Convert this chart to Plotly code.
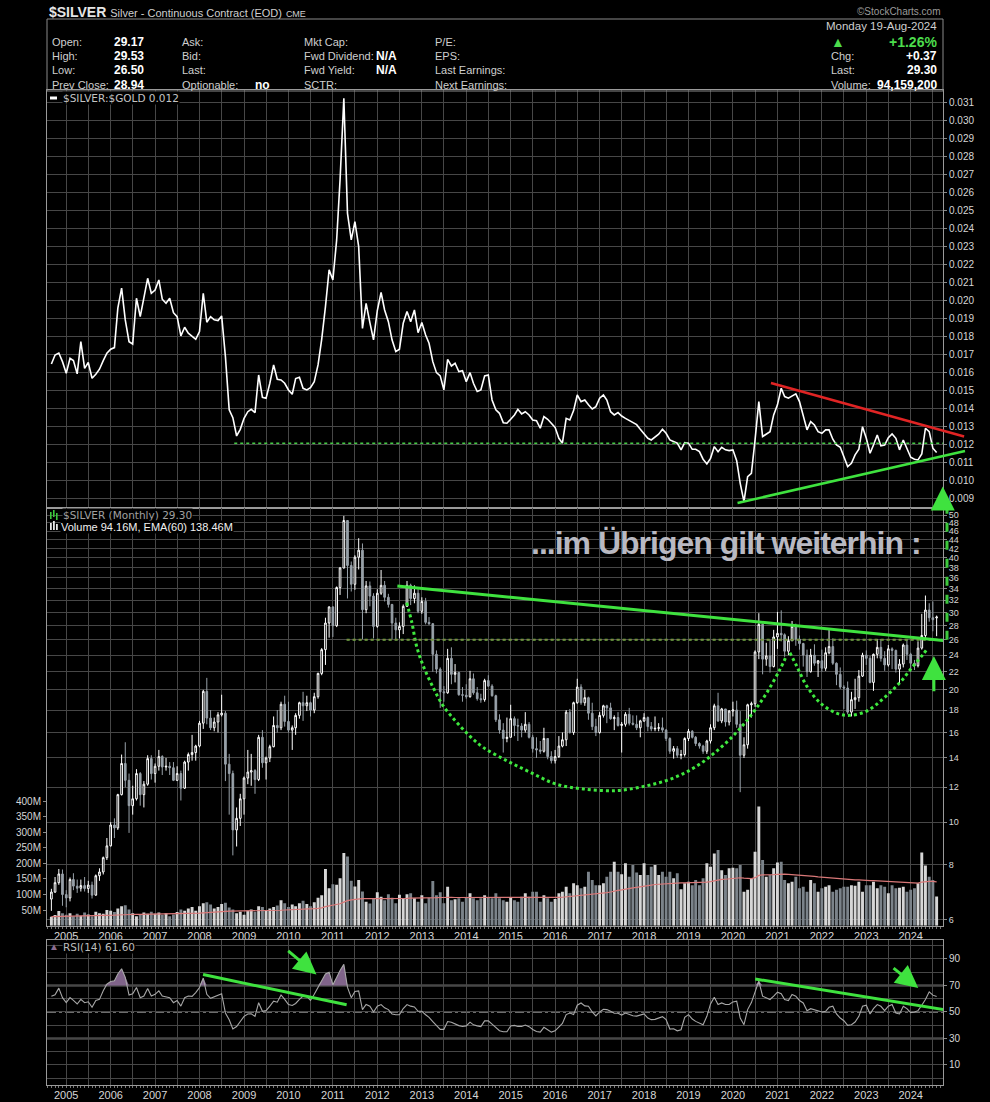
import numpy as np
import pandas as pd
import plotly.graph_objects as go

# ---------------- data (monthly, Sep 2004 .. Aug 2024) ----------------
months = pd.date_range("2004-09-01", periods=240, freq="MS")

open_ = [
    6.68, 6.93, 7.28, 7.62,
    6.84, 6.72, 7.40, 7.15, 7.07, 7.17, 7.06, 7.19, 6.82, 7.55, 7.70, 8.30,
    8.83, 9.85, 9.70, 11.55, 13.60, 12.45, 10.90, 11.30, 12.90, 11.55, 12.20, 13.95,
    12.90, 13.40, 14.10, 13.35, 13.40, 13.30, 12.45, 12.90, 11.95, 13.70, 14.25, 14.40,
    14.90, 16.80, 19.85, 17.25, 16.40, 16.90, 17.55, 17.70, 13.55, 12.90, 9.60, 10.20,
    11.30, 12.60, 13.00, 13.10, 12.50, 15.60, 13.65, 14.00, 14.85, 16.60, 16.40, 18.55,
    16.95, 16.20, 16.40, 17.50, 18.70, 18.40, 18.70, 18.00, 19.30, 21.80, 24.70, 28.40,
    30.90, 28.00, 34.20, 37.90, 48.60, 38.40, 34.80, 40.10, 41.60, 30.45, 34.50, 32.70,
    27.90, 33.20, 34.60, 32.50, 31.30, 28.40, 27.40, 27.90, 31.00, 34.60, 32.30, 33.20,
    30.20, 31.80, 28.50, 28.30, 24.10, 22.30, 19.80, 19.70, 23.60, 21.70, 21.90, 19.50,
    19.45, 19.30, 21.20, 19.70, 19.10, 19.00, 21.00, 20.40, 19.40, 17.10, 16.20, 15.50,
    15.60, 17.20, 16.60, 16.55, 16.20, 16.70, 15.60, 14.70, 14.60, 14.50, 15.50, 14.10,
    13.80, 14.10, 14.90, 15.40, 17.80, 16.00, 18.70, 20.30, 18.70, 19.20, 17.70, 16.50,
    16.00, 17.50, 18.40, 18.20, 17.20, 17.30, 16.60, 16.70, 17.60, 16.80, 16.70, 16.40,
    17.00, 17.30, 16.50, 16.30, 16.35, 16.40, 16.20, 15.50, 14.50, 14.70, 14.20, 14.25,
    15.50, 16.10, 15.60, 15.10, 14.90, 14.50, 15.30, 16.40, 18.40, 17.00, 18.10, 16.90,
    17.90, 18.00, 16.70, 14.20, 15.00, 18.50, 18.60, 24.40, 28.20, 23.50, 23.90, 22.60,
    26.40, 26.90, 26.70, 24.50, 25.90, 27.90, 26.10, 25.50, 24.00, 22.00, 24.00, 23.00,
    23.30, 22.40, 24.30, 25.10, 23.00, 21.70, 20.30, 20.20, 17.80, 19.00, 19.20, 21.50,
    24.00, 23.60, 20.80, 24.10, 25.00, 23.60, 22.80, 24.80, 24.60, 22.30, 22.90, 25.30,
    24.10, 23.00, 22.70, 24.90, 26.60, 30.40, 29.20, 29.17,
]
high = [
    7.05, 7.50, 7.82, 7.80,
    7.00, 7.48, 7.65, 7.40, 7.40, 7.50, 7.35, 7.32, 7.60, 7.85, 8.35, 9.20,
    10.00, 10.20, 11.60, 14.25, 15.20, 12.90, 12.10, 13.20, 13.00, 12.40, 14.20, 14.20,
    13.60, 14.60, 14.20, 14.00, 13.70, 13.70, 13.40, 13.10, 13.80, 14.40, 15.80, 15.00,
    17.00, 20.00, 21.30, 18.00, 17.30, 17.80, 19.50, 17.90, 14.30, 13.10, 10.80, 11.60,
    12.70, 14.60, 14.30, 13.20, 15.80, 16.20, 14.10, 15.00, 17.40, 18.00, 18.80, 19.40,
    18.80, 16.60, 17.70, 18.80, 19.80, 19.40, 18.80, 19.70, 21.90, 24.90, 29.20, 31.00,
    31.00, 34.40, 38.10, 49.80, 48.70, 39.20, 40.50, 44.30, 43.10, 35.40, 35.30, 33.20,
    33.90, 37.50, 35.40, 33.10, 31.40, 29.20, 28.50, 31.30, 35.40, 34.90, 34.60, 33.90,
    32.50, 32.40, 29.30, 28.40, 24.60, 22.50, 20.40, 24.80, 25.00, 22.90, 22.00, 20.30,
    20.60, 22.10, 21.80, 20.30, 19.60, 21.20, 21.60, 20.60, 19.50, 17.60, 16.80, 17.30,
    18.50, 17.40, 17.20, 16.80, 17.80, 16.90, 15.80, 15.60, 15.30, 16.40, 15.50, 14.50,
    14.60, 15.70, 16.00, 18.00, 18.10, 18.80, 21.20, 20.60, 20.00, 19.30, 18.70, 17.20,
    17.80, 18.50, 18.50, 18.70, 17.50, 17.80, 16.90, 17.80, 18.20, 17.50, 17.50, 17.10,
    17.70, 17.40, 16.90, 17.40, 16.80, 17.30, 16.30, 15.60, 14.90, 14.90, 14.60, 15.60,
    16.30, 16.20, 15.70, 15.20, 15.00, 15.40, 16.70, 18.60, 19.70, 18.20, 18.10, 18.00,
    18.80, 18.90, 17.90, 15.60, 18.60, 18.80, 24.60, 29.90, 28.30, 25.60, 26.00, 27.40,
    30.10, 30.35, 26.90, 26.50, 28.70, 28.30, 26.60, 25.60, 24.70, 24.80, 25.40, 23.40,
    24.70, 25.00, 27.50, 26.20, 23.10, 22.50, 20.50, 20.90, 19.80, 21.20, 22.20, 24.30,
    24.60, 23.90, 24.20, 26.10, 26.10, 24.50, 25.30, 25.00, 24.70, 23.50, 25.50, 26.10,
    24.30, 23.40, 25.80, 29.80, 32.80, 31.50, 31.80, 29.53,
]
low = [
    6.28, 6.90, 7.20, 6.45,
    6.40, 6.60, 7.00, 6.90, 6.95, 6.95, 6.90, 6.70, 6.80, 7.35, 7.60, 8.20,
    8.80, 9.20, 9.60, 11.50, 12.00, 9.45, 10.40, 11.20, 10.90, 10.80, 12.10, 12.50,
    12.30, 13.10, 12.80, 13.10, 12.80, 12.40, 12.40, 11.20, 11.90, 13.10, 13.80, 13.80,
    14.80, 16.30, 16.70, 16.20, 16.10, 16.00, 17.40, 12.40, 10.40, 8.40, 8.80, 9.80,
    10.40, 12.20, 12.10, 11.60, 12.40, 13.30, 12.50, 13.70, 14.80, 16.00, 16.20, 16.50,
    16.00, 14.60, 15.80, 17.20, 17.00, 17.90, 17.40, 17.70, 19.10, 21.60, 22.80, 26.30,
    26.40, 27.80, 32.90, 37.80, 32.30, 33.50, 33.80, 37.60, 26.10, 29.90, 31.00, 26.20,
    27.70, 32.90, 31.80, 30.80, 26.10, 26.10, 26.20, 26.80, 30.90, 31.20, 31.50, 29.90,
    29.80, 28.20, 28.10, 22.00, 21.80, 18.20, 18.80, 19.60, 20.60, 20.80, 19.40, 18.80,
    19.10, 19.20, 19.50, 18.90, 18.70, 18.80, 20.30, 19.30, 16.90, 15.90, 14.40, 15.20,
    15.60, 15.70, 15.30, 15.60, 16.00, 15.50, 14.40, 14.00, 14.30, 14.40, 13.90, 13.60,
    13.60, 14.00, 14.80, 14.90, 15.90, 15.80, 18.60, 18.50, 18.40, 17.10, 16.20, 15.70,
    15.90, 17.30, 16.80, 17.10, 16.20, 16.50, 14.40, 16.50, 16.60, 16.60, 16.20, 15.60,
    16.90, 16.10, 16.10, 16.10, 16.10, 16.00, 15.30, 14.30, 13.95, 14.00, 13.90, 14.10,
    15.30, 15.50, 14.90, 14.70, 14.30, 14.30, 15.10, 16.20, 16.90, 16.80, 16.50, 16.60,
    17.40, 16.40, 11.70, 14.00, 14.70, 17.30, 18.30, 23.50, 21.70, 22.70, 21.90, 22.50,
    24.80, 25.80, 23.80, 24.00, 25.80, 25.20, 24.70, 22.60, 21.40, 21.90, 22.70, 21.40,
    22.00, 22.10, 24.10, 22.80, 20.50, 20.10, 18.10, 17.60, 17.40, 18.10, 18.80, 21.40,
    22.80, 20.70, 19.90, 23.60, 23.20, 22.10, 22.60, 22.30, 21.90, 20.70, 22.50, 23.40,
    22.00, 22.20, 22.50, 24.70, 26.00, 28.60, 27.20, 26.50,
]
close = [
    6.93, 7.28, 7.62, 6.84,
    6.72, 7.40, 7.15, 7.07, 7.17, 7.06, 7.19, 6.82, 7.55, 7.70, 8.30, 8.83,
    9.85, 9.70, 11.55, 13.60, 12.45, 10.90, 11.30, 12.90, 11.55, 12.20, 13.95, 12.90,
    13.40, 14.10, 13.35, 13.40, 13.30, 12.45, 12.90, 11.95, 13.70, 14.25, 14.40, 14.90,
    16.80, 19.85, 17.25, 16.40, 16.90, 17.55, 17.70, 13.55, 12.90, 9.60, 10.20, 11.30,
    12.60, 13.00, 13.10, 12.50, 15.60, 13.65, 14.00, 14.85, 16.60, 16.40, 18.55, 16.95,
    16.20, 16.40, 17.50, 18.70, 18.40, 18.70, 18.00, 19.30, 21.80, 24.70, 28.40, 30.90,
    28.00, 34.20, 37.90, 48.60, 38.40, 34.80, 40.10, 41.60, 30.45, 34.50, 32.70, 27.90,
    33.20, 34.60, 32.50, 31.30, 28.40, 27.40, 27.90, 31.00, 34.60, 32.30, 33.20, 30.20,
    31.80, 28.50, 28.30, 24.10, 22.30, 19.80, 19.70, 23.60, 21.70, 21.90, 19.50, 19.45,
    19.30, 21.20, 19.70, 19.10, 19.00, 21.00, 20.40, 19.40, 17.10, 16.20, 15.50, 15.60,
    17.20, 16.60, 16.55, 16.20, 16.70, 15.60, 14.70, 14.60, 14.50, 15.50, 14.10, 13.80,
    14.10, 14.90, 15.40, 17.80, 16.00, 18.70, 20.30, 18.70, 19.20, 17.70, 16.50, 16.00,
    17.50, 18.40, 18.20, 17.20, 17.30, 16.60, 16.70, 17.60, 16.80, 16.70, 16.40, 17.00,
    17.30, 16.50, 16.30, 16.35, 16.40, 16.20, 15.50, 14.50, 14.70, 14.20, 14.25, 15.50,
    16.10, 15.60, 15.10, 14.90, 14.50, 15.30, 16.40, 18.40, 17.00, 18.10, 16.90, 17.90,
    18.00, 16.70, 14.20, 15.00, 18.50, 18.60, 24.40, 28.20, 23.50, 23.90, 22.60, 26.40,
    26.90, 26.70, 24.50, 25.90, 27.90, 26.10, 25.50, 24.00, 22.00, 24.00, 23.00, 23.30,
    22.40, 24.30, 25.10, 23.00, 21.70, 20.30, 20.20, 17.80, 19.00, 19.20, 21.50, 24.00,
    23.60, 20.80, 24.10, 25.00, 23.60, 22.80, 24.80, 24.60, 22.30, 22.90, 25.30, 24.10,
    23.00, 22.70, 24.90, 26.60, 30.40, 29.20, 28.90, 29.30,
]
volume_m = [
    29, 34, 47, 40,
    35, 40, 30, 38, 32, 42, 36, 30, 45, 40, 38, 50,
    48, 44, 55, 62, 66, 52, 40, 30, 36, 42, 38, 45,
    38, 42, 35, 40, 30, 36, 44, 52, 48, 55, 60, 48,
    62, 72, 75, 68, 55, 60, 70, 74, 58, 52, 40, 45,
    35, 48, 52, 45, 62, 60, 50, 55, 60, 65, 82, 72,
    60, 68, 62, 72, 80, 70, 62, 75, 90, 98, 182, 120,
    133, 131, 152, 233, 222, 144, 126, 147, 110, 77, 71, 89,
    107, 93, 82, 101, 90, 72, 99, 88, 101, 104, 88, 77,
    98, 72, 90, 143, 98, 107, 72, 125, 82, 85, 88, 77,
    90, 104, 88, 82, 88, 98, 92, 88, 104, 88, 82, 77,
    90, 82, 77, 93, 104, 93, 109, 109, 77, 98, 88, 77,
    86, 104, 109, 125, 104, 136, 130, 120, 125, 173, 147, 130,
    130, 136, 157, 173, 205, 173, 165, 200, 157, 195, 171, 163,
    200, 163, 189, 195, 163, 173, 157, 173, 152, 168, 117, 136,
    141, 130, 147, 130, 152, 200, 189, 232, 243, 178, 163, 184,
    186, 184, 195, 109, 115, 152, 237, 382, 211, 157, 163, 184,
    203, 205, 147, 136, 141, 157, 120, 125, 109, 147, 136, 109,
    120, 125, 130, 109, 115, 120, 125, 125, 130, 128, 141, 109,
    130, 130, 141, 120, 130, 125, 104, 130, 120, 122, 125, 109,
    115, 120, 136, 235, 193, 157, 147, 94,
]
ratio = [
    .01646, .01696, .01707, .01659, .01594, .01678, .01665, .01591, .01770, .01622, .01654, .01567,
    .01589, .01617, .01665, .01706, .01728, .01737, .01956, .02067, .01891, .01770, .01757, .02011,
    .01909, .02011, .02122, .02039, .02057, .02113, .02006, .01983, .02011, .01931, .01909, .01802,
    .01850, .01817, .01798, .01783, .01826, .02039, .01878, .01909, .01891, .01887, .01913, .01687,
    .01391, .01348, .01246, .01283, .01344, .01381, .01394, .01376, .01585, .01461, .01456, .01539,
    .01641, .01561, .01557, .01539, .01502, .01478, .01565, .01572, .01511, .01502, .01515, .01548,
    .01641, .01783, .01965, .02169, .02113, .02335, .02669, .03122, .02483, .02335, .02437, .02298,
    .01844, .01983, .01876, .01780, .01943, .02043, .01946, .01881, .01780, .01715, .01728, .01872,
    .01937, .01881, .01946, .01820, .01876, .01807, .01761, .01659, .01598, .01580, .01502, .01672,
    .01635, .01650, .01604, .01609, .01548, .01598, .01539, .01493, .01502, .01580, .01585, .01446,
    .01391, .01372, .01320, .01317, .01339, .01363, .01394, .01369, .01381, .01363, .01335, .01331,
    .01289, .01354, .01339, .01317, .01294, .01233, .01206, .01344, .01335, .01387, .01474, .01437,
    .01446, .01419, .01396, .01409, .01456, .01474, .01446, .01381, .01363, .01376, .01357, .01344,
    .01331, .01320, .01309, .01283, .01256, .01233, .01224, .01239, .01256, .01283, .01261, .01224,
    .01213, .01206, .01169, .01209, .01206, .01172, .01172, .01159, .01117, .01091, .01122, .01187,
    .01159, .01183, .01169, .01165, .01169, .01109, .00983, .00881, .01020, .01039, .01224, .01437,
    .01243, .01257, .01270, .01363, .01419, .01511, .01465, .01456, .01469, .01480, .01437, .01363,
    .01280, .01326, .01307, .01270, .01261, .01280, .01280, .01228, .01196, .01183, .01131, .01076,
    .01094, .01141, .01172, .01298, .01233, .01150, .01196, .01252, .01191, .01196, .01237, .01257,
    .01233, .01169, .01224, .01178, .01128, .01117, .01113, .01146, .01289, .01270, .01178, .01154,
]
rsi = [
    61.8, 63.0, 68.0, 60.8, 57.0, 60.8, 58.7, 56.0, 59.5, 57.0, 57.7, 53.6,
    58.7, 59.5, 66.0, 71.0, 73.0, 73.6, 78.7, 82.6, 76.0, 62.8, 63.8, 68.5,
    60.8, 62.0, 67.7, 62.0, 63.3, 65.9, 62.0, 61.3, 60.8, 57.0, 58.7, 54.4,
    60.8, 62.0, 61.8, 64.6, 68.5, 75.6, 63.3, 60.3, 61.3, 62.8, 63.8, 49.2,
    44.1, 37.2, 39.0, 42.8, 46.7, 48.5, 48.7, 46.7, 57.0, 50.5, 51.0, 54.4,
    58.2, 57.4, 62.8, 59.5, 55.6, 54.9, 56.4, 59.5, 62.0, 61.8, 58.7, 63.3,
    68.5, 73.6, 78.7, 80.0, 70.5, 76.0, 81.3, 85.9, 68.5, 60.8, 65.4, 65.9,
    51.8, 55.6, 54.4, 50.0, 54.4, 55.6, 53.1, 51.8, 48.5, 47.9, 47.9, 52.6,
    55.6, 54.4, 53.8, 50.5, 50.5, 47.9, 45.9, 42.8, 39.7, 36.9, 36.9, 42.8,
    42.3, 40.8, 39.7, 39.0, 39.5, 42.3, 40.3, 39.5, 39.0, 43.3, 43.3, 40.8,
    38.2, 35.9, 35.1, 35.1, 39.4, 39.9, 39.1, 39.1, 40.1, 38.9, 36.8, 35.3,
    34.8, 38.4, 36.6, 34.8, 35.8, 38.4, 41.4, 48.0, 49.2, 48.0, 55.1, 56.8,
    54.6, 54.3, 50.0, 47.0, 50.0, 52.0, 51.8, 50.5, 49.0, 49.0, 47.7, 49.2,
    48.0, 47.2, 46.9, 47.5, 48.5, 45.4, 44.2, 44.4, 45.4, 46.5, 44.2, 37.1,
    37.3, 35.8, 36.6, 46.0, 48.0, 44.7, 42.9, 41.9, 40.4, 46.7, 56.1, 61.1,
    55.6, 56.8, 55.6, 55.6, 57.6, 58.1, 45.4, 40.4, 51.8, 57.1, 65.7, 73.3,
    61.9, 60.6, 59.4, 61.9, 64.9, 63.7, 59.4, 58.6, 63.2, 61.9, 58.6, 56.8,
    51.0, 52.5, 51.8, 51.0, 50.0, 50.5, 53.5, 54.3, 48.5, 45.4, 43.4, 39.9,
    40.4, 42.4, 46.7, 54.3, 55.1, 48.5, 52.5, 55.6, 54.3, 51.0, 54.3, 55.6,
    49.2, 48.5, 54.3, 52.5, 49.5, 50.0, 51.0, 55.1, 59.4, 65.2, 62.7, 61.6,
]
years = list(range(2005, 2025))
price_ticks = [6, 8, 10, 12, 14, 16, 18, 20, 22, 24, 26, 28, 30, 32, 34, 36, 38, 40, 42, 44, 46, 48, 50]
ratio_ticks = [0.009, 0.010, 0.011, 0.012, 0.013, 0.014, 0.015, 0.016, 0.017, 0.018, 0.019, 0.020,
               0.021, 0.022, 0.023, 0.024, 0.025, 0.026, 0.027, 0.028, 0.029, 0.030, 0.031]
vol_ticks_m = [50, 100, 150, 200, 250, 300, 350, 400]
rsi_ticks = [10, 30, 50, 70, 90]

# drawn trendlines / arcs (decimal year, value)
cup_big = [(2012.66, 31.6), (2012.775, 28.5), (2012.88, 25.2), (2013.03, 22.7), (2013.26, 20.2),
           (2013.48, 18.4), (2013.78, 16.9), (2014.08, 15.7), (2014.38, 14.8), (2014.91, 13.8),
           (2015.43, 13.0), (2016.03, 12.2), (2016.63, 11.9), (2017.38, 11.8), (2018.06, 12.1),
           (2018.66, 12.6), (2019.18, 13.4), (2019.63, 14.5), (2020.08, 16.0), (2020.46, 17.8),
           (2020.76, 19.7), (2021.06, 22.3), (2021.21, 24.0)]
cup_small = [(2021.28, 24.3), (2021.43, 22.7), (2021.66, 20.4), (2021.96, 18.7), (2022.33, 17.7),
             (2022.63, 17.5), (2023.01, 17.9), (2023.38, 19.1), (2023.76, 20.8), (2024.06, 22.7),
             (2024.28, 24.1), (2024.37, 24.8)]

# ---------------- geometry helpers ----------------
FW, FH = 990, 1102
ML, MR, MT, MB = 47, 47, 90, 17
PW, PH = FW - ML - MR, FH - MT - MB


def ptx(px):
    return (px - ML) / PW


def pty(py):
    return (FH - MB - py) / PH


def yr(v):
    y = int(np.floor(v))
    a, b = pd.Timestamp(y, 1, 1), pd.Timestamp(y + 1, 1, 1)
    return (a + (b - a) * (v - y)).strftime("%Y-%m-%d %H:%M")


X0, X1 = yr(2004.568), yr(2024.725)
FONT = "Liberation Sans, Arial, sans-serif"
MONO = "DejaVu Sans, Verdana, sans-serif"
GRID = "#474747"
FRAME = "#9a9a9a"
TICKC = "#d6d6d6"
GREEN = "#3fe23f"

# ---------------- traces ----------------
fig = go.Figure()

fig.add_trace(go.Scatter(x=months, y=ratio, mode="lines", line=dict(color="white", width=1.6),
                         xaxis="x", yaxis="y", showlegend=False, hoverinfo="skip"))

vol_colors = ["#d6d6d6" if c >= o else "#7b838a" for o, c in zip(open_, close)]
fig.add_trace(go.Bar(x=months, y=[v * 1e6 for v in volume_m], marker=dict(color=vol_colors, line=dict(width=0)),
                     width=24 * 86400000, xaxis="x2", yaxis="y2", showlegend=False, hoverinfo="skip"))

ema = []
alpha = 2.0 / 61.0
for v in volume_m:
    ema.append(v if not ema else ema[-1] + alpha * (v - ema[-1]))
fig.add_trace(go.Scatter(x=months, y=[e * 1e6 for e in ema], mode="lines",
                         line=dict(color="#d97878", width=1.2), xaxis="x2", yaxis="y2",
                         showlegend=False, hoverinfo="skip"))

fig.add_trace(go.Candlestick(x=months, open=open_, high=high, low=low, close=close,
                             increasing=dict(line=dict(color="#ffffff", width=1), fillcolor="#000000"),
                             decreasing=dict(line=dict(color="#98a1a9", width=1), fillcolor="#98a1a9"),
                             whiskerwidth=0, xaxis="x2", yaxis="y3", showlegend=False, hoverinfo="skip"))

for pts in (cup_big, cup_small):
    fig.add_trace(go.Scatter(x=[yr(p[0]) for p in pts], y=[p[1] for p in pts], mode="lines",
                             line=dict(color="#3ee83e", width=3, dash="dot", shape="spline"),
                             xaxis="x2", yaxis="y3", showlegend=False, hoverinfo="skip"))

fig.add_trace(go.Scatter(x=months, y=[70 for _ in rsi], mode="lines", line=dict(width=0, color="rgba(0,0,0,0)"),
                         xaxis="x3", yaxis="y4", showlegend=False, hoverinfo="skip"))
fig.add_trace(go.Scatter(x=months, y=[max(v, 70) for v in rsi], mode="lines", line=dict(width=0, color="rgba(0,0,0,0)"),
                         fill="tonexty", fillcolor="rgba(135,105,145,0.95)",
                         xaxis="x3", yaxis="y4", showlegend=False, hoverinfo="skip"))
fig.add_trace(go.Scatter(x=months, y=rsi, mode="lines", line=dict(color="#a8a8a8", width=1.1),
                         xaxis="x3", yaxis="y4", showlegend=False, hoverinfo="skip"))

# ---------------- axes ----------------
grid_vals, grid_text = [], []
for y in range(2004, 2025):
    if y >= 2005:
        grid_vals.append(f"{y}-01-01")
        grid_text.append(str(y))
    grid_vals.append(f"{y}-07-01")
    grid_text.append("")

xcommon = dict(range=[X0, X1], type="date", tickvals=grid_vals, ticktext=grid_text, automargin=False,
               showgrid=True, gridcolor=GRID, gridwidth=1, showline=True, linecolor=FRAME,
               mirror=True, zeroline=False, rangeslider=dict(visible=False),
               tickfont=dict(family=FONT, size=11, color=TICKC), ticks="")
xminor = dict(ticks="outside", ticklen=2, tickcolor="#777", dtick="M1", tick0="2004-09-01", showgrid=False)

top_dom = [pty(508), 1.0]
mid_dom = [pty(925.7), pty(508)]
rsi_dom = [0.0, pty(940)]

ycommon = dict(showline=True, linecolor=FRAME, mirror=True, zeroline=False, ticks="outside", automargin=False,
               ticklen=3, tickcolor="#888", tickfont=dict(family=FONT, size=10, color=TICKC))

fig.update_layout(
    width=FW, height=FH, paper_bgcolor="black", plot_bgcolor="black",
    margin=dict(l=ML, r=MR, t=MT, b=MB), showlegend=False, bargap=0.1,
    xaxis=dict(xcommon, domain=[0, 1], anchor="y", showticklabels=False),
    xaxis2=dict(xcommon, domain=[0, 1], anchor="y2", matches="x", minor=xminor),
    xaxis3=dict(xcommon, domain=[0, 1], anchor="y4", matches="x", minor=xminor),
    yaxis=dict(ycommon, domain=top_dom, anchor="x", side="right", range=[0.00846, 0.03168],
               tickvals=ratio_ticks, tickformat=".3f", showgrid=True, gridcolor=GRID),
    yaxis2=dict(ycommon, domain=mid_dom, anchor="x2", side="left", range=[0, 1340e6],
                tickvals=[v * 1e6 for v in vol_ticks_m], ticktext=[f"{v}M" for v in vol_ticks_m],
                showgrid=False, mirror=False),
    yaxis3=dict(ycommon, overlaying="y2", anchor="x2", side="right", type="log",
                range=[np.log10(5.81), np.log10(51.9)], tickvals=price_ticks,
                ticktext=[str(t) for t in price_ticks], showgrid=True, gridcolor=GRID,
                tickfont=dict(family=FONT, size=9, color=TICKC)),
    yaxis4=dict(ycommon, domain=rsi_dom, anchor="x3", side="right", range=[-5.1, 104.3],
                tickvals=rsi_ticks, showgrid=False,
                minor=dict(dtick=10, tick0=0, showgrid=True, gridcolor=GRID, ticks="")),
)

# ---------------- shapes ----------------
shapes = []
# RSI reference lines
for lvl, dash, w in ((70, "solid", 1.5), (30, "solid", 1.5), (50, "dashdot", 1.3)):
    shapes.append(dict(type="line", xref="x3", yref="y4", x0=X0, x1=X1, y0=lvl, y1=lvl,
                       line=dict(color="#d8d8d8", width=w, dash=dash), layer="below"))
# ratio support dotted
shapes.append(dict(type="line", xref="x", yref="y", x0=yr(2008.78), x1=X1, y0=0.01205, y1=0.01205,
                   line=dict(color="#45c845", width=1.5, dash="dot")))
# price 26 line
shapes.append(dict(type="line", xref="x2", yref="y3", x0=yr(2011.31), x1=X1, y0=26.0, y1=26.0,
                   line=dict(color="#45d045", width=2, dash="dot")))
shapes.append(dict(type="line", xref="x2", yref="y3", x0=yr(2011.31), x1=X1, y0=26.0, y1=26.0,
                   line=dict(color="#c04040", width=0.8, dash="dot")))
# price resistance
shapes.append(dict(type="line", xref="x2", yref="y3", x0=yr(2012.45), x1=yr(2024.77), y0=34.5, y1=25.9,
                   line=dict(color=GREEN, width=3)))
# vertical dashed line at right edge of price panel
shapes.append(dict(type="line", xref="paper", yref="y3", x0=ptx(947), x1=ptx(947), y0=26.0, y1=52.0,
                   line=dict(color="#3cc83c", width=3, dash="dash")))
# RSI trendlines
shapes.append(dict(type="line", xref="x3", yref="y4", x0=yr(2008.08), x1=yr(2011.31), y0=78.2, y1=55.5,
                   line=dict(color=GREEN, width=3)))
shapes.append(dict(type="line", xref="x3", yref="y4", x0=yr(2020.50), x1=yr(2024.77), y0=74.9, y1=51.7,
                   line=dict(color=GREEN, width=3)))
# header box
shapes.append(dict(type="rect", xref="paper", yref="paper", x0=0, x1=1, y0=pty(91), y1=pty(19),
                   line=dict(color="#8a8a8a", width=1)))
# legend icons
shapes.append(dict(type="line", xref="paper", yref="paper", x0=ptx(50), x1=ptx(57), y0=pty(98), y1=pty(98),
                   line=dict(color="white", width=3)))
for k, (a, b) in enumerate(((512, 519), (510, 517), (513, 520))):
    shapes.append(dict(type="rect", xref="paper", yref="paper", x0=ptx(50 + 3 * k), x1=ptx(51.6 + 3 * k),
                       y0=pty(b), y1=pty(a), line=dict(width=0), fillcolor="#3cc83c"))
for k, (a) in enumerate((523, 521, 524)):
    shapes.append(dict(type="rect", xref="paper", yref="paper", x0=ptx(50 + 3 * k), x1=ptx(51.8 + 3 * k),
                       y0=pty(530), y1=pty(a), line=dict(width=0), fillcolor="#e8e8e8"))
fig.update_layout(shapes=shapes)

# ---------------- annotations ----------------
ann = []


def text(px, py, s, anchor="left", size=11, color="#cfcfcf", family=FONT, bold=False, bg=None):
    d = dict(xref="paper", yref="paper", x=ptx(px), y=pty(py), text=(f"<b>{s}</b>" if bold else s),
             showarrow=False, xanchor=anchor, yanchor="middle",
             font=dict(family=family, size=size, color=color))
    if bg:
        d["bgcolor"] = bg
        d["borderpad"] = 0
    ann.append(d)


text(47, 12, "<b>$SILVER</b> <span style='font-size:11px;color:#cfcfcf'>Silver - Continuous Contract (EOD)</span>"
     " <span style='font-size:9px;color:#cfcfcf'>CME</span>", size=14, color="#e6e6e6")
text(943, 12, "©StockCharts.com", anchor="right", size=10, color="#9a9a9a")
rows = [42, 56, 70, 85]
for lab, val, y in zip(["Open:", "High:", "Low:", "Prev Close:"], ["29.17", "29.53", "26.50", "28.94"], rows):
    text(50, y, lab)
    text(146, y, val, anchor="right", size=12, color="white", bold=True)
for lab, y in zip(["Ask:", "Bid:", "Last:", "Optionable:"], rows):
    text(180, y, lab)
text(253, 85, "no", size=12, color="white", bold=True)
for lab, y in zip(["Mkt Cap:", "Fwd Dividend:", "Fwd Yield:", "SCTR:"], rows):
    text(302, y, lab)
text(399, 56, "N/A", anchor="right", size=12, color="white", bold=True)
text(399, 70, "N/A", anchor="right", size=12, color="white", bold=True)
for lab, y in zip(["P/E:", "EPS:", "Last Earnings:", "Next Earnings:"], rows):
    text(433, y, lab)
text(939, 26, "Monday 19-Aug-2024", anchor="right", size=11.5)
text(838, 42, "▲", anchor="center", size=14, color="#4cdc4c")
text(939, 42, "+1.26%", anchor="right", size=14, color="#4cdc4c", bold=True)
for lab, val, y in zip(["Chg:", "Last:", "Volume:"], ["+0.37", "29.30", "94,159,200"], rows[1:]):
    text(829, y, lab)
    text(939, y, val, anchor="right", size=12, color="white", bold=True)

text(62, 98, "$SILVER:$GOLD 0.012", size=10.5, color="#c4c4c4", family=MONO, bg="black")
text(62, 515, "$SILVER (Monthly) 29.30", size=10.5, color="#a0a0a0", family=MONO, bg="black")
text(60, 527, "Volume 94.16M, EMA(60) 138.46M", size=11, color="#f0f0f0", bg="black")
text(54, 946.5, "▲", anchor="center", size=10, color="#8c6c90")
text(62, 946.5, "RSI(14) 61.60", size=10.5, color="#bdbdbd", family=MONO, bg="black")

text(726, 543, "<span style='letter-spacing:-1px'>...im Übrigen gilt weiterhin :</span>", anchor="center",
     size=32, color="#b9b9c2", family="Liberation Sans, Arial, sans-serif", bold=True)


def arrow(xr, yref, tail, head, width=3, hs=1.4, head_style=2, color=GREEN):
    ann.append(dict(xref=xr, yref=yref, axref=xr, ayref=yref, x=head[0], y=head[1], ax=tail[0], ay=tail[1],
                    text="", showarrow=True, arrowhead=head_style, arrowsize=hs, arrowwidth=width,
                    arrowcolor=color, standoff=0, startstandoff=0))


# top panel triangle lines (extend past the axis)
arrow("x", "y", (yr(2020.82), 0.01543), (yr(2025.20), 0.01243), width=2.5, head_style=0, color="#e02424")
arrow("x", "y", (yr(2020.07), 0.00872), (yr(2025.22), 0.01163), width=2.5, head_style=0)
arrow("x", "y", (yr(2024.72), 0.00850), (yr(2024.72), 0.00966), width=3, hs=1.6)
arrow("x2", "y3", (yr(2024.52), np.log10(19.7)), (yr(2024.52), np.log10(23.9)), width=3, hs=1.6)
arrow("x3", "y4", (yr(2009.96), 97.0), (yr(2010.63), 78.2), width=3, hs=1.5)
arrow("x3", "y4", (yr(2023.58), 84.0), (yr(2024.17), 68.1), width=3, hs=1.5)

fig.update_layout(annotations=ann)
fig.write_html("out.html", config={"displayModeBar": False},
               post_script="document.body.style.margin='0';document.body.style.padding='0';")
